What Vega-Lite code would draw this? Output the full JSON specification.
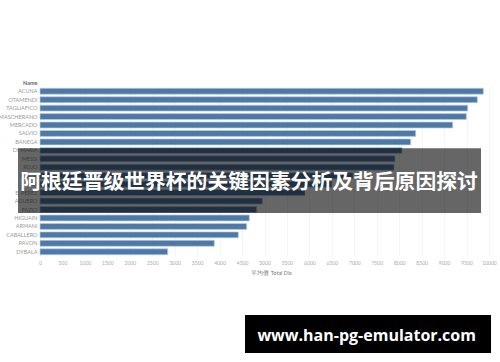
{
  "$schema": "https://vega.github.io/schema/vega-lite/v6.json",
  "autosize": {"type": "none"},
  "width": 449,
  "height": 169,
  "padding": {"left": 40, "top": 87, "right": 11, "bottom": 106},
  "background": "white",
  "config": {
    "view": {"stroke": null},
    "font": "Lato",
    "axisX": {
      "tickCount": 20, "format": "d",
      "titleFontSize": 5.5, "titleFontWeight": "normal", "titleColor": "#777", "titlePadding": 5, "titleX": 231,
      "labelFontSize": 5, "labelColor": "#aaa", "labelPadding": 4, "labelOverlap": false, "labelBound": false, "labelFlush": false,
      "ticks": false, "domain": false, "grid": true, "gridColor": "#f0f0f0", "gridWidth": 0.7
    }
  },
  "data": {
    "values": [
      {"Name": "ACUNA", "TotalDis": 9873},
      {"Name": "OTAMENDI", "TotalDis": 9740},
      {"Name": "TAGLIAFICO", "TotalDis": 9525},
      {"Name": "MASCHERANO", "TotalDis": 9495},
      {"Name": "MERCADO", "TotalDis": 9191},
      {"Name": "SALVIO", "TotalDis": 8367},
      {"Name": "BANEGA", "TotalDis": 8256},
      {"Name": "DI MARIA", "TotalDis": 8060},
      {"Name": "MESSI", "TotalDis": 7906},
      {"Name": "ROJO", "TotalDis": 7884},
      {"Name": "BIGLIA", "TotalDis": 6971},
      {"Name": "MEZA", "TotalDis": 6500},
      {"Name": "E. PEREZ", "TotalDis": 5902},
      {"Name": "AGUERO", "TotalDis": 4951},
      {"Name": "FAZIO", "TotalDis": 4826},
      {"Name": "HIGUAIN", "TotalDis": 4662},
      {"Name": "ARMANI", "TotalDis": 4603},
      {"Name": "CABALLERO", "TotalDis": 4417},
      {"Name": "PAVON", "TotalDis": 3882},
      {"Name": "DYBALA", "TotalDis": 2844}
    ]
  },
  "layer": [
    {
      "mark": {"type": "bar", "color": "#4e79a7", "stroke": "#b9cce0", "strokeWidth": 0.7},
      "encoding": {
        "y": {
          "field": "Name", "type": "nominal", "sort": null,
          "scale": {"paddingInner": 0.3, "paddingOuter": 0.15},
          "axis": {
            "title": "Name", "titleAngle": 0, "titleAlign": "right", "titleBaseline": "bottom",
            "titleX": -3, "titleY": -2, "titleFontSize": 5.5, "titleFontWeight": "bold", "titleColor": "#666",
            "labelFontSize": 5.5, "labelColor": "#999", "labelPadding": 3, "labelOverlap": false,
            "ticks": false, "domain": false, "grid": false
          }
        },
        "x": {
          "field": "TotalDis", "type": "quantitative",
          "scale": {"domain": [0, 10000], "nice": false},
          "axis": {"title": "平均值 Total Dis"}
        }
      }
    },
    {
      "data": {"values": [{}]},
      "mark": {"type": "rect", "color": "black", "opacity": 0.6},
      "encoding": {
        "x": {"datum": -490, "type": "quantitative"},
        "x2": {"datum": 9822},
        "y": {"datum": 7.25, "type": "quantitative", "scale": {"domain": [0, 20], "reverse": true, "nice": false, "zero": false}, "axis": null},
        "y2": {"datum": 14.9}
      }
    },
    {
      "data": {"values": [{}]},
      "mark": {"type": "text", "text": "阿根廷晋级世界杯的关键因素分析及背后原因探讨", "font": "Noto Sans CJK SC", "fontWeight": "bold", "fontSize": 20.8, "color": "white", "align": "center", "baseline": "middle"},
      "encoding": {
        "x": {"datum": 4655, "type": "quantitative"},
        "y": {"datum": 11.4, "type": "quantitative", "scale": {"domain": [0, 20], "reverse": true, "nice": false, "zero": false}, "axis": null}
      }
    },
    {
      "data": {"values": [{}]},
      "mark": {"type": "rect", "color": "black"},
      "encoding": {
        "x": {"datum": 4566, "type": "quantitative"},
        "x2": {"datum": 10045},
        "y": {"datum": 26.97, "type": "quantitative", "scale": {"domain": [0, 20], "reverse": true, "nice": false, "zero": false}, "axis": null},
        "y2": {"datum": 31.47}
      }
    },
    {
      "data": {"values": [{}]},
      "mark": {"type": "text", "text": "www.han-pg-emulator.com", "font": "Open Sans", "fontWeight": "bold", "fontSize": 16, "color": "white", "align": "center", "baseline": "middle"},
      "encoding": {
        "x": {"datum": 7276, "type": "quantitative"},
        "y": {"datum": 29.42, "type": "quantitative", "scale": {"domain": [0, 20], "reverse": true, "nice": false, "zero": false}, "axis": null}
      }
    }
  ],
  "resolve": {"scale": {"y": "independent"}}
}
